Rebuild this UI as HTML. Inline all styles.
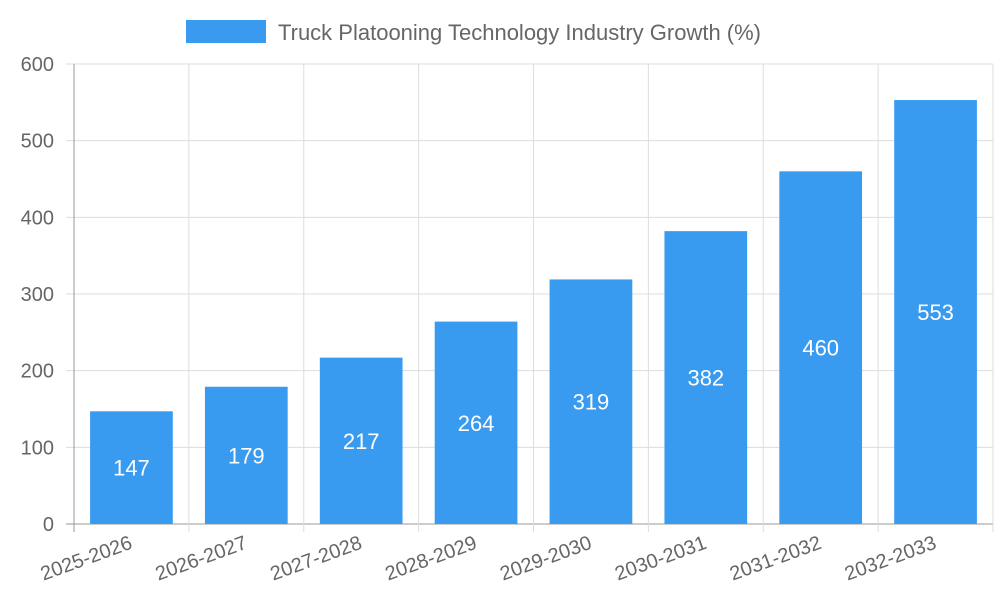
<!DOCTYPE html>
<html><head><meta charset="utf-8"><style>
html,body{margin:0;padding:0;background:#fff;}
svg text{font-family:"Liberation Sans",sans-serif;}
</style></head><body>
<svg id="chart" width="1000" height="600" xmlns="http://www.w3.org/2000/svg">
<g id="legend">
<rect x="186" y="20" width="80" height="23" fill="#389bf0"/>
<text x="278" y="40" font-size="22" fill="#666">Truck Platooning Technology Industry Growth (%)</text>
</g>
<g id="grid"></g><g id="bars"></g><g id="axes"></g>
</svg>
<script>
const categories=["2025-2026","2026-2027","2027-2028","2028-2029","2029-2030","2030-2031","2031-2032","2032-2033"];
const values=[147,179,217,264,319,382,460,553];
const yTicks=[0,100,200,300,400,500,600];
const NS="http://www.w3.org/2000/svg";
const L=74,R=993,T=64,B=524,yMax=600;
const bw=(R-L)/categories.length;
const y=v=>B-(v/yMax)*(B-T);
const x=i=>L+i*bw;
function mk(tag,attrs,parent,text){const e=document.createElementNS(NS,tag);for(const k in attrs)e.setAttribute(k,attrs[k]);if(text!==undefined)e.textContent=text;parent.appendChild(e);return e;}
const grid=document.getElementById('grid'),bars=document.getElementById('bars'),axes=document.getElementById('axes');
yTicks.forEach(t=>{
 const l=mk('line',{x1:66,x2:R,y1:y(t),y2:y(t),stroke:t===0?'#999':'#ddd','stroke-width':1},grid);
 
 
 const tx=mk('text',{x:54,y:y(t)+7,'text-anchor':'end','font-size':20,fill:'#666'},axes,String(t));
 
 
});
for(let i=0;i<=categories.length;i++){
 const l=mk('line',{x1:x(i),x2:x(i),y1:T,y2:B+8,stroke:i===0?'#999':'#ddd','stroke-width':1},grid);
 
 
}
categories.forEach((c,i)=>{
 const w=bw*0.72,cx=x(i)+bw/2;
 const r=mk('rect',{x:cx-w/2,y:y(values[i]),width:w,height:B-y(values[i]),fill:'#389bf0'},bars);
 
 
 const v=mk('text',{x:cx,y:(y(values[i])+B)/2+8,'text-anchor':'middle','font-size':22,fill:'#fff'},bars,String(values[i]));
 
 
 const lx=cx+2,ly=548;
 const t=mk('text',{x:lx,y:ly,'text-anchor':'end','font-size':20,fill:'#666',transform:`rotate(-20 ${lx} ${ly})`},axes,c);
 
 
});
</script>
</body></html>
